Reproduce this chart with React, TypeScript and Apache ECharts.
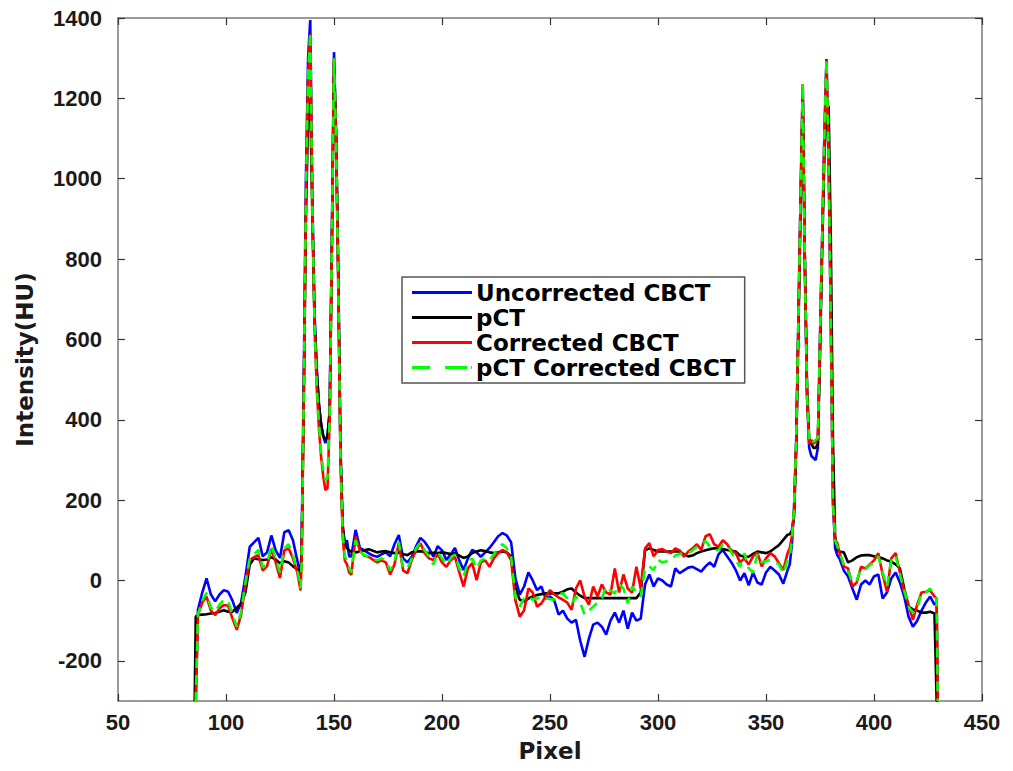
import React, { useEffect, useRef } from "react";
import * as echarts from "echarts";

// Pixel positions (x) shared by all profiles
const pixel = [
  85.5, 86, 87, 89, 91, 93, 95, 97, 99, 101, 103, 105, 107, 109, 111, 113, 115, 117, 119, 121, 123, 125, 127, 129, 131, 133, 134.5,
  135, 136, 137, 138, 139, 140, 141, 142, 143, 144, 145, 146, 147, 148, 149, 150, 151, 152, 153, 154, 155, 156, 157,
  158, 160, 162, 164, 166, 168, 170, 172, 174, 176, 178, 180, 182, 184, 186, 188, 190, 192, 194, 196, 198, 200, 202, 204, 206, 208, 210, 212, 214, 216, 218, 220, 222, 224, 226, 228, 230, 232,
  234, 236, 238, 240, 242, 244, 246, 248, 250, 252, 254, 256, 258, 260, 262, 264, 266, 268, 270, 272, 274, 276, 278, 280, 282, 284, 286, 288, 290, 292, 294, 296, 298, 300,
  302, 304, 306, 308, 310, 312, 314, 316, 318, 320, 322, 324, 326, 328, 330, 332, 334, 336, 338, 340, 342, 344, 346, 348, 350, 352, 354, 356, 358, 360,
  361, 362, 363, 364, 365, 366, 367, 368, 369, 370, 371, 372, 373, 374, 375, 376, 377, 378, 379, 380, 381, 382, 383, 384,
  386, 388, 390, 392, 394, 396, 398, 400, 402, 404, 406, 408, 410, 412, 414, 416, 418, 420, 422, 424, 426, 428, 429, 429.5,
];

const uncorrectedCBCT = [
  -300, -300, -73, -30, 5, -35, -52, -35, -24, -28, -50, -81, -55, 10, 84, 95, 106, 60, 70, 112, 75, 56, 120, 125, 100, 50, 10,
  80, 500, 1000, 1300, 1395, 950, 660, 530, 440, 390, 360, 342, 360, 420, 850, 1315, 1100, 750, 320, 130, 90, 100, 60,
  60, 126, 81, 75, 68, 62, 59, 65, 70, 60, 90, 113, 55, 45, 59, 85, 106, 96, 80, 59, 85, 75, 51, 65, 81, 50, 26, 55, 76, 70, 59, 70, 81, 95, 110, 118, 112, 95,
  5, -35, -15, 20, 0, -24, -15, -45, -40, -50, -85, -75, -95, -105, -98, -150, -190, -145, -110, -105, -115, -135, -100, -80, -105, -75, -120, -80, -100, -95, -10, 15, -15, 5,
  0, -10, -15, 30, 18, 25, 32, 34, 28, 22, 35, 45, 34, 65, 76, 60, 45, 26, 0, 18, -12, 20, -5, -10, 20, 34, 25, 15, -8, 26,
  40, 90, 180, 350, 650, 950, 1230, 780, 460, 330, 310, 305, 300, 330, 600, 850, 1100, 1298, 1050, 650, 200, 80, 63, 55,
  25, 10, -20, -48, -10, 0, -10, 10, 15, -45, -30, 5, 20, -5, -40, -90, -115, -100, -75, -55, -40, -60, -55, -300,
];

const pCT = [
  -300, -90, -86, -85, -84, -82, -81, -78, -74, -78, -78, -68, -58, -30, 40, 55, 53, 51, 52, 58, 52, 43, 48, 45, 35, 28, 25,
  60, 450, 900, 1150, 1200, 900, 650, 520, 440, 390, 360, 350, 360, 420, 820, 1290, 1100, 760, 330, 140, 90, 80, 75,
  72, 70, 72, 75, 78, 74, 70, 72, 73, 70, 68, 70, 66, 63, 70, 72, 73, 70, 68, 69, 68, 70, 68, 66, 68, 62, 56, 60, 68, 72, 75, 73, 70, 68, 70, 72, 70, 60,
  -20, -48, -52, -45, -40, -36, -34, -32, -32, -32, -32, -28, -22, -20, -30, -38, -44, -44, -44, -44, -44, -44, -44, -44, -44, -44, -44, -44, -44, -30, 75, 80, 76, 72,
  72, 72, 72, 72, 72, 65, 60, 62, 68, 72, 75, 78, 80, 80, 78, 76, 74, 72, 62, 59, 59, 66, 72, 70, 68, 72, 80, 88, 101, 114,
  115, 125, 160, 330, 620, 920, 1200, 800, 480, 350, 340, 330, 330, 340, 560, 820, 1050, 1180, 1180, 850, 350, 110, 76, 72,
  70, 45, 50, 58, 62, 63, 63, 60, 58, 55, 50, 47, 40, 30, -20, -65, -72, -75, -80, -80, -78, -82, -300, -300,
];

const correctedCBCT = [
  -300, -300, -86, -55, -40, -75, -86, -70, -61, -63, -95, -123, -85, -10, 51, 58, 63, 25, 35, 78, 45, 6, 75, 80, 55, 20, -25,
  40, 450, 950, 1250, 1360, 920, 630, 480, 380, 310, 260, 225, 230, 400, 830, 1300, 1080, 720, 300, 110, 50, 40, 20,
  14, 109, 75, 62, 59, 52, 45, 50, 45, 15, 40, 93, 25, 18, 51, 75, 93, 68, 55, 51, 65, 45, 34, 50, 59, 20, -15, 30, 43, 1, 45, 50, 34, 55, 68, 76, 70, 50,
  -50, -90, -75, -20, -30, -65, -57, -40, -24, -35, -42, -48, -55, -73, -20, 0, -40, -60, -15, -40, -10, -30, -35, 30, -30, 15, -20, -30, 34, -20, 80, 93, 60, 76,
  78, 72, 68, 80, 75, 59, 72, 80, 90, 76, 110, 115, 90, 84, 100, 90, 74, 68, 45, 55, 40, 60, 70, 35, 55, 68, 60, 43, 26, 68,
  80, 110, 180, 350, 650, 950, 1235, 780, 460, 340, 350, 340, 345, 350, 600, 850, 1100, 1295, 1050, 640, 190, 100, 93, 70,
  35, 30, -15, -5, 34, 30, 40, 50, 68, 15, -28, 55, 68, 20, -30, -60, -98, -60, -30, -28, -25, -40, -45, -300,
];

const pCTCorrectedCBCT = [
  -300, -300, -85, -50, -31, -68, -78, -60, -48, -52, -85, -115, -78, -5, 55, 65, 76, 32, 40, 88, 55, 20, 80, 90, 62, 28, -20,
  45, 460, 960, 1260, 1365, 930, 640, 490, 390, 320, 275, 250, 255, 410, 840, 1300, 1090, 730, 310, 120, 60, 50, 30,
  20, 100, 72, 63, 60, 55, 50, 55, 50, 25, 45, 95, 30, 30, 55, 80, 95, 75, 60, 40, 70, 55, 40, 55, 65, 30, 10, 45, 55, 30, 50, 55, 50, 65, 80, 90, 80, 60,
  -40, -65, -44, -40, -48, -45, -40, -44, -46, -48, -35, -32, -45, -57, -40, -55, -85, -75, -65, -55, -44, -15, -25, -32, -10, -20, -57, -15, -30, -40, 30, 35, 26, 51,
  45, 48, 51, 62, 66, 68, 68, 75, 84, 90, 98, 85, 76, 76, 90, 88, 70, 50, 34, 68, 30, 20, 65, 45, 48, 51, 46, 40, 18, 51,
  60, 100, 180, 350, 650, 950, 1237, 780, 460, 345, 350, 345, 350, 355, 600, 850, 1100, 1298, 1050, 645, 195, 100, 85, 70,
  40, 25, -5, 0, 30, 28, 38, 45, 60, 20, -15, 50, 63, 15, -24, -65, -80, -70, -30, -30, -20, -40, -45, -300,
];

const yTicks = [-200, 0, 200, 400, 600, 800, 1000, 1200, 1400];
const seriesNames = ["Uncorrected CBCT", "pCT", "Corrected CBCT", "pCT Corrected CBCT"];

const TICK_FONT = "'Liberation Sans', Arial, Helvetica, sans-serif";
const WIDE_FONT = "'DejaVu Sans', 'Liberation Sans', Arial, sans-serif";

const SOLID_ICON = "path://M0,0H60V3H0Z";
const DASH_ICON = "path://M0,0H18V3H0Z M33,0H55V3H33Z M59,0H60V3H59Z";

export default function App() {
  const ref = useRef<HTMLDivElement>(null);

  useEffect(() => {
    if (!ref.current) return;
    const chart = echarts.init(ref.current, null, { renderer: "svg" });
    const toPairs = (vals: number[]) => pixel.map((x, i) => [x, vals[i]]);
    const axisLineStyle = { color: "#7a7a7a", width: 1.5 };
    const tickStyle = { color: "#333", width: 1.2 };
    const tickLabel = { color: "#1a1a1a", fontSize: 22, fontWeight: "bold" as const, fontFamily: TICK_FONT };
    const nameStyle = { color: "#1a1a1a", fontSize: 23, fontWeight: "bold" as const, fontFamily: WIDE_FONT };

    const makeSeries = (name: string, vals: number[], color: string, type: any, z: number) => ({
      name,
      type: "line",
      data: toPairs(vals),
      symbol: "none",
      showSymbol: false,
      z,
      lineStyle: { color, width: 2.6, type },
      itemStyle: { color },
    });

    chart.setOption({
      animation: false,
      backgroundColor: "#ffffff",
      grid: { left: 118, right: 31, top: 18, bottom: 70, containLabel: false },
      legend: {
        data: [
          { name: seriesNames[0], icon: SOLID_ICON },
          { name: seriesNames[1], icon: SOLID_ICON },
          { name: seriesNames[2], icon: SOLID_ICON },
          { name: seriesNames[3], icon: DASH_ICON },
        ],
        orient: "vertical",
        left: 402,
        top: 277,
        itemWidth: 62,
        itemHeight: 3,
        itemGap: 2,
        padding: [4, 9, 4, 10],
        backgroundColor: "#ffffff",
        borderColor: "#555555",
        borderWidth: 1.5,
        textStyle: { color: "#000", fontSize: 23, lineHeight: 23, fontWeight: "bold", fontFamily: WIDE_FONT, padding: [0, 0, 0, -2] },
      },
      xAxis: [
        {
          type: "value",
          min: 50,
          max: 450,
          interval: 50,
          position: "bottom",
          name: "Pixel",
          nameLocation: "middle",
          nameGap: 38,
          nameTextStyle: nameStyle,
          axisLine: { show: true, onZero: false, lineStyle: axisLineStyle },
          axisTick: { show: true, inside: true, length: 7, lineStyle: tickStyle },
          axisLabel: { ...tickLabel, margin: 10, formatter: (v: number) => String(v) },
          splitLine: { show: false },
        },
        {
          type: "value",
          min: 50,
          max: 450,
          interval: 50,
          position: "top",
          axisLine: { show: true, onZero: false, lineStyle: axisLineStyle },
          axisTick: { show: true, inside: true, length: 7, lineStyle: tickStyle },
          axisLabel: { show: false },
          splitLine: { show: false },
        },
      ],
      yAxis: [
        {
          type: "value",
          min: -300,
          max: 1400,
          position: "left",
          name: "Intensity(HU)",
          nameLocation: "middle",
          nameGap: 82,
          nameRotate: 90,
          nameTextStyle: nameStyle,
          axisLine: { show: true, onZero: false, lineStyle: axisLineStyle },
          axisTick: { show: true, inside: true, length: 7, lineStyle: tickStyle, customValues: yTicks },
          axisLabel: { ...tickLabel, margin: 16, customValues: yTicks, formatter: (v: number) => String(v) },
          splitLine: { show: false },
        },
        {
          type: "value",
          min: -300,
          max: 1400,
          position: "right",
          axisLine: { show: true, onZero: false, lineStyle: axisLineStyle },
          axisTick: { show: true, inside: true, length: 7, lineStyle: tickStyle, customValues: yTicks },
          axisLabel: { show: false, customValues: yTicks },
          splitLine: { show: false },
        },
      ],
      series: [
        makeSeries(seriesNames[0], uncorrectedCBCT, "#0000ff", "solid", 2),
        makeSeries(seriesNames[1], pCT, "#000000", "solid", 3),
        makeSeries(seriesNames[2], correctedCBCT, "#ff0000", "solid", 4),
        makeSeries(seriesNames[3], pCTCorrectedCBCT, "#00ff00", [10, 7], 5),
      ],
    });

    return () => chart.dispose();
  }, []);

  return (
    <div
      ref={ref}
      style={{ position: "fixed", left: 0, top: 0, width: 1013, height: 771, background: "#fff" }}
    />
  );
}
